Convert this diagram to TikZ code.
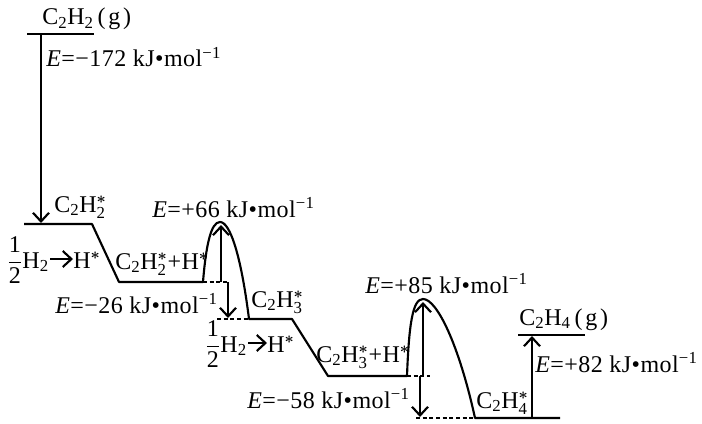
\documentclass[tikz,border=0pt]{standalone}
\usepackage{amsmath}
\usepackage{fontspec}
\setmainfont{Liberation Serif}[LetterSpace=2]
\usetikzlibrary{arrows.meta}
\newcommand\sbs[1]{\ensuremath{_{\text{#1}}}}
\newcommand\sbst[1]{\ensuremath{_{\text{#1}}^{\boldsymbol{*}}}}
\newcommand\stl{\ensuremath{^{\boldsymbol{*}}}}
\newcommand\kjm{kJ•mol\textsuperscript{−1}}
\newcommand\half{\ensuremath{\dfrac{\text{1}}{\text{2}}}}
\begin{document}
\begin{tikzpicture}[x=0.75pt,y=-0.75pt,
  lvl/.style={line width=1.6pt,line join=round},
  dsh/.style={line width=1.3pt,dash pattern=on 3pt off 2pt},
  arr/.style={line width=1.6pt,-{Straight Barb[length=6.5pt,width=12pt]}},
  lbl/.style={inner sep=0pt,anchor=base west,font=\fontsize{18}{21}\selectfont}]
\useasboundingbox (0,0) rectangle (702,424);
% key points
\coordinate (t1) at (27,34);  \coordinate (t2) at (94,34);
\coordinate (l1a) at (24,224); \coordinate (l1b) at (92,224);
\coordinate (l2a) at (119,282); \coordinate (l2b) at (203,282);
\coordinate (p1) at (220,222);
\coordinate (l3a) at (249,319); \coordinate (l3b) at (292,319);
\coordinate (l4a) at (328,376); \coordinate (l4b) at (407,376);
\coordinate (p2) at (423,299);
\coordinate (l5a) at (475,418); \coordinate (l5b) at (560,418);
\coordinate (g1) at (518,335); \coordinate (g2) at (585,335);
% levels and barriers
\draw[lvl] (t1) -- (t2);
\draw[lvl] (l1a) -- (l1b) -- (l2a) -- (l2b)
  .. controls (206,245) and (211,222) .. (p1)
  .. controls (230,222) and (241,255) .. (l3a) -- (l3b) -- (l4a) -- (l4b)
  .. controls (409,322) and (413,299) .. (p2)
  .. controls (437,299) and (459,345) .. (l5a) -- (l5b);
\draw[lvl] (g1) -- (g2);
% arrows
\coordinate (a0) at (41,34); \coordinate (a1) at (41,223);
\draw[arr] (a0) -- (a1);
\coordinate (b0) at (221,282); \coordinate (b1) at (221,225);
\draw[arr] (b0) -- (b1);
\coordinate (c0) at (228,282); \coordinate (c1) at (228,318);
\draw[dsh] (l2b) -- (c0);
\draw[arr] (c0) -- (c1);
\coordinate (c2) at (217,319);
\draw[dsh] (c2) -- (l3a);
\coordinate (d0) at (423,376); \coordinate (d1) at (423,302);
\draw[arr] (d0) -- (d1);
\coordinate (e0) at (430,376); \coordinate (e1) at (420,376); \coordinate (e2) at (420,417);
\draw[dsh] (l4b) -- (e0);
\draw[arr] (e1) -- (e2);
\coordinate (e3) at (416,418);
\draw[dsh] (e3) -- (l5a);
\coordinate (f0) at (532,418); \coordinate (f1) at (532,336);
\draw[arr] (f0) -- (f1);
% labels
\node[lbl] (gC2H2) at (42,25) {C\sbs{2}H\sbs{2}\hspace{3pt}(\hspace{2pt}g\hspace{2pt})};
\node[lbl] (e172) at (46,67) {\textit{E}=−172 \kjm};
\node[lbl] (c2h2s) at (54,212) {C\sbs{2}H\sbst{2}};
\node[lbl] (half1) at (7,268) {\half H\sbs{2}};
\node[lbl] (hs1) at (73,268) {H\stl};
\draw[arr] ([shift={(1,-9)}]half1.base east) -- ([shift={(0,-9)}]hs1.base west);
\node[lbl] (c2h2h) at (115,269) {C\sbs{2}H\sbst{2}+H\stl};
\node[lbl] (e66) at (152,217) {\textit{E}=+66 \kjm};
\node[lbl] (e26) at (55,313) {\textit{E}=−26 \kjm};
\node[lbl] (c2h3s) at (251,307) {C\sbs{2}H\sbst{3}};
\node[lbl] (half2) at (205,352) {\half H\sbs{2}};
\node[lbl] (hs2) at (267,352) {H\stl};
\draw[arr] ([shift={(1,-9)}]half2.base east) -- ([shift={(0,-9)}]hs2.base west);
\node[lbl] (c2h3h) at (316,362) {C\sbs{2}H\sbst{3}+H\stl};
\node[lbl] (e85) at (365,293) {\textit{E}=+85 \kjm};
\node[lbl] (e58) at (247,408) {\textit{E}=−58 \kjm};
\node[lbl] (c2h4s) at (476,408) {C\sbs{2}H\sbst{4}};
\node[lbl] (gC2H4) at (519,325) {C\sbs{2}H\sbs{4}\hspace{3pt}(\hspace{2pt}g\hspace{2pt})};
\node[lbl] (e82) at (535,372) {\textit{E}=+82 \kjm};
\end{tikzpicture}
\end{document}
